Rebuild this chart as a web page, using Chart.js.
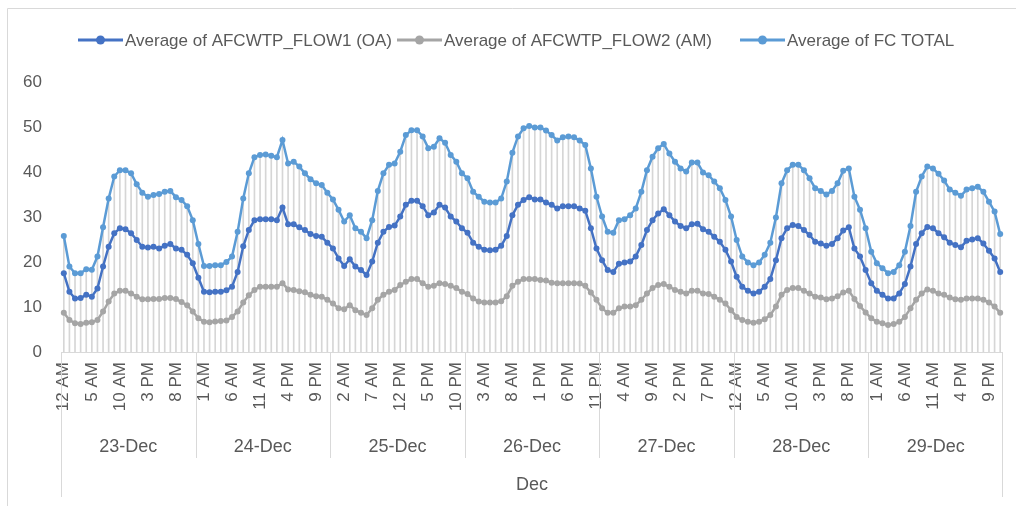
<!DOCTYPE html>
<html>
<head>
<meta charset="utf-8">
<script src="https://cdn.jsdelivr.net/npm/chart.js@4/dist/chart.umd.min.js"></script>
<style>
body { margin: 0; background: #fff; }
canvas { display: block; }
</style>
</head>
<body>
<canvas id="canvas" width="1016" height="506"></canvas>
<script>
var days = ['23-Dec', '24-Dec', '25-Dec', '26-Dec', '27-Dec', '28-Dec', '29-Dec'];
var hours = ['12 AM', '1 AM', '2 AM', '3 AM', '4 AM', '5 AM', '6 AM', '7 AM', '8 AM', '9 AM', '10 AM', '11 AM',
             '12 PM', '1 PM', '2 PM', '3 PM', '4 PM', '5 PM', '6 PM', '7 PM', '8 PM', '9 PM', '10 PM', '11 PM'];
var month = 'Dec';

var flow1 = [
  17.5, 13.4, 11.9, 12.0, 12.7, 12.3, 14.1, 19.0, 23.4, 26.4, 27.5, 27.3, 26.4, 24.9, 23.4, 23.2, 23.4, 23.0, 23.6, 24.0, 23.0, 22.7, 21.6, 19.7,
  16.5, 13.4, 13.3, 13.4, 13.4, 13.7, 14.5, 17.8, 23.5, 27.1, 29.3, 29.5, 29.5, 29.5, 29.3, 32.1, 28.4, 28.4, 27.7, 27.1, 26.2, 25.8, 25.6, 24.3,
  23.0, 20.8, 19.1, 20.6, 19.0, 18.2, 17.1, 20.1, 24.3, 26.7, 27.8, 28.1, 30.1, 32.7, 33.6, 33.6, 32.4, 30.4, 31.0, 32.7, 32.1, 30.1, 29.0, 27.5,
  26.5, 24.3, 23.4, 22.7, 22.6, 22.7, 23.6, 25.8, 30.4, 32.7, 33.8, 34.4, 33.9, 33.9, 33.2, 32.7, 31.9, 32.4, 32.4, 32.4, 31.9, 31.4, 27.5, 23.0,
  20.4, 18.2, 17.8, 19.6, 19.9, 20.1, 21.2, 23.8, 27.1, 29.3, 30.8, 31.7, 30.4, 29.0, 28.0, 27.5, 28.4, 28.5, 27.3, 26.7, 25.6, 24.5, 22.7, 20.1,
  16.7, 14.5, 13.6, 13.0, 13.4, 14.5, 16.2, 20.4, 25.3, 27.5, 28.2, 28.0, 27.1, 26.0, 24.5, 24.1, 23.6, 24.0, 25.3, 27.0, 27.7, 23.0, 21.2, 18.2,
  15.3, 13.6, 12.7, 11.9, 11.9, 13.0, 15.1, 19.0, 24.0, 26.4, 27.8, 27.5, 26.4, 25.5, 24.3, 23.8, 23.3, 24.7, 25.0, 25.3, 24.1, 22.5, 20.8, 17.8
];
var flow2 = [
  8.7, 7.1, 6.4, 6.2, 6.5, 6.6, 7.1, 9.0, 11.2, 13.0, 13.6, 13.6, 13.0, 12.3, 11.7, 11.7, 11.8, 11.8, 12.0, 12.0, 11.8, 11.1, 10.4, 9.0,
  7.5, 6.7, 6.6, 6.8, 6.9, 7.0, 7.8, 9.0, 11.0, 12.6, 13.8, 14.5, 14.5, 14.5, 14.5, 15.3, 13.9, 13.8, 13.5, 13.3, 12.7, 12.4, 12.3, 11.6,
  10.8, 9.7, 9.5, 10.4, 9.3, 8.7, 8.2, 9.7, 11.6, 12.7, 13.4, 13.8, 14.9, 15.6, 16.2, 16.2, 15.3, 14.5, 14.7, 15.3, 15.1, 14.7, 14.2, 13.4,
  12.9, 11.9, 11.2, 11.0, 11.0, 11.0, 11.3, 12.4, 14.7, 15.6, 16.2, 16.2, 16.2, 16.0, 15.9, 15.4, 15.3, 15.3, 15.3, 15.3, 15.2, 14.7, 13.2, 11.6,
  9.7, 8.7, 8.7, 9.7, 10.1, 10.1, 10.4, 11.6, 13.0, 14.2, 14.9, 15.1, 14.5, 13.8, 13.4, 13.0, 13.6, 13.6, 13.0, 12.9, 12.3, 11.6, 10.8, 9.3,
  7.8, 7.1, 6.7, 6.5, 6.7, 7.3, 8.2, 10.1, 12.7, 13.8, 14.2, 14.2, 13.6, 13.0, 12.3, 12.1, 11.7, 11.9, 12.4, 13.2, 13.6, 11.8, 10.2, 8.8,
  7.5, 6.7, 6.4, 6.0, 6.2, 6.7, 7.8, 9.7, 11.6, 13.0, 13.9, 13.6, 13.0, 12.7, 12.1, 11.7, 11.6, 11.9, 11.9, 11.9, 11.6, 11.0, 10.1, 8.7
];
var fcTotal = [
  25.8, 19.0, 17.5, 17.5, 18.4, 18.3, 21.2, 27.7, 34.1, 39.0, 40.4, 40.4, 39.7, 37.3, 35.4, 34.5, 34.9, 35.1, 35.6, 35.8, 34.4, 33.8, 32.4, 29.3,
  24.0, 19.1, 19.1, 19.3, 19.3, 20.0, 21.2, 26.7, 34.1, 39.7, 43.3, 43.8, 43.9, 43.6, 43.3, 47.1, 41.9, 42.3, 41.2, 39.7, 38.4, 37.5, 37.1, 35.4,
  33.9, 31.6, 29.0, 30.4, 27.5, 26.7, 25.3, 29.3, 35.8, 39.7, 41.6, 41.9, 44.5, 48.2, 49.3, 49.3, 47.9, 45.3, 45.6, 47.5, 46.5, 43.8, 42.3, 39.7,
  38.6, 35.6, 34.5, 33.4, 33.2, 33.2, 34.1, 37.9, 44.3, 47.9, 49.7, 50.2, 49.9, 49.9, 49.2, 48.2, 47.0, 47.7, 47.9, 47.7, 47.0, 46.0, 40.8, 34.5,
  30.1, 26.7, 26.5, 29.3, 29.5, 30.4, 31.9, 35.6, 40.4, 43.4, 45.3, 46.2, 44.1, 42.3, 40.8, 40.1, 42.1, 42.1, 39.9, 39.3, 37.9, 36.4, 33.8, 30.1,
  24.9, 21.2, 19.9, 19.3, 19.9, 21.6, 24.3, 29.9, 37.5, 40.4, 41.6, 41.6, 40.4, 38.6, 36.4, 35.8, 35.0, 35.8, 37.5, 40.3, 40.8, 34.5, 31.6, 27.5,
  22.3, 19.7, 18.6, 17.5, 17.8, 19.3, 22.3, 28.0, 35.6, 39.0, 41.2, 40.8, 39.6, 38.1, 36.1, 35.4, 34.7, 36.1, 36.4, 36.7, 35.6, 33.4, 31.2, 26.2
];

var labels = [];
days.forEach(function (d) {
    hours.forEach(function (h) { labels.push(h); });
});

var textColor = '#595959';
var lineGrey = '#d9d9d9';
var fontFamily = '"Liberation Sans", Arial, sans-serif';
var legendX = [78, 397, 740];

// grouped category axis (days + month), frame and legend
var extras = {
    id: 'extras',
    afterDraw: function (chart) {
        var ctx = chart.ctx;
        var x = chart.scales.x;
        var area = chart.chartArea;
        var half = (x.getPixelForValue(1) - x.getPixelForValue(0)) / 2;
        ctx.save();
        ctx.strokeStyle = lineGrey;
        ctx.lineWidth = 1;
        // outer frame
        ctx.beginPath();
        ctx.rect(7.5, 8.5, 1030, 520);
        ctx.stroke();
        // axis line
        ctx.beginPath();
        ctx.moveTo(area.left, Math.round(area.bottom) + 0.5);
        ctx.lineTo(area.right, Math.round(area.bottom) + 0.5);
        ctx.stroke();
        // day separators
        for (var d = 0; d <= days.length; d++) {
            var px = Math.round(x.getPixelForValue(d * hours.length) - half) + 0.5;
            if (d === days.length) px = Math.round(area.right) - 0.5;
            var bottom = (d === 0 || d === days.length) ? 497 : 458;
            ctx.beginPath();
            ctx.moveTo(px, area.bottom);
            ctx.lineTo(px, bottom);
            ctx.stroke();
        }
        ctx.fillStyle = textColor;
        ctx.textAlign = 'center';
        ctx.textBaseline = 'middle';
        ctx.font = '18px ' + fontFamily;
        days.forEach(function (name, i) {
            var a = x.getPixelForValue(i * hours.length) - half;
            var b = x.getPixelForValue((i + 1) * hours.length - 1) + half;
            ctx.fillText(name, (a + b) / 2, 447);
        });
        ctx.fillText(month, (area.left + area.right) / 2, 485);

        // legend: line + marker + text
        ctx.font = '17px ' + fontFamily;
        ctx.textAlign = 'left';
        var n = 0;
        chart.data.datasets.forEach(function (ds) {
            if (ds.type !== 'line') return;
            var lx = legendX[n++];
            ctx.strokeStyle = ds.borderColor;
            ctx.lineWidth = 3;
            ctx.beginPath();
            ctx.moveTo(lx, 40);
            ctx.lineTo(lx + 45, 40);
            ctx.stroke();
            ctx.fillStyle = ds.borderColor;
            ctx.beginPath();
            ctx.arc(lx + 22.5, 40, 4.5, 0, Math.PI * 2);
            ctx.fill();
            ctx.fillStyle = textColor;
            ctx.fillText(ds.label, lx + 47, 41);
        });
        ctx.restore();
    }
};

function lineSet(label, data, color, order) {
    return {
        type: 'line',
        label: label,
        data: data,
        borderColor: color,
        backgroundColor: color,
        borderWidth: 2.5,
        pointRadius: 3,
        pointBorderWidth: 0,
        pointBackgroundColor: color,
        tension: 0,
        fill: false,
        order: order
    };
}

var context = document.getElementById('canvas').getContext('2d');
var chart = new Chart(context, {
    data: {
        labels: labels,
        datasets: [
            lineSet('Average of AFCWTP_FLOW1 (OA)', flow1, '#4472C4', 1),
            lineSet('Average of AFCWTP_FLOW2 (AM)', flow2, '#A5A5A5', 2),
            lineSet('Average of FC TOTAL', fcTotal, '#5B9BD5', 0),
            {
                // drop lines
                type: 'bar',
                label: 'drop',
                data: fcTotal,
                backgroundColor: '#d6d6d6',
                barThickness: 1,
                order: 10
            }
        ]
    },
    options: {
        responsive: false,
        animation: false,
        layout: { padding: { top: 82, right: 13, left: 0, bottom: 0 } },
        plugins: {
            legend: { display: false },
            tooltip: { enabled: false }
        },
        scales: {
            x: {
                offset: true,
                grid: { display: false, drawTicks: false },
                border: { display: false },
                ticks: {
                    autoSkip: false,
                    minRotation: 90,
                    maxRotation: 90,
                    padding: 10,
                    color: textColor,
                    font: { family: fontFamily, size: 17 },
                    callback: function (v, i) { return i % 5 === 0 ? labels[i] : ''; }
                },
                afterFit: function (s) {
                    s.height = 154;
                    s.paddingLeft = 0;
                    s.paddingRight = 0;
                }
            },
            y: {
                min: 0,
                max: 60,
                grid: { display: false, drawTicks: false },
                border: { display: false },
                ticks: {
                    stepSize: 10,
                    padding: 19,
                    color: textColor,
                    font: { family: fontFamily, size: 17 }
                },
                afterFit: function (s) { s.width = 61; }
            }
        }
    },
    plugins: [extras]
});
</script>
</body>
</html>
